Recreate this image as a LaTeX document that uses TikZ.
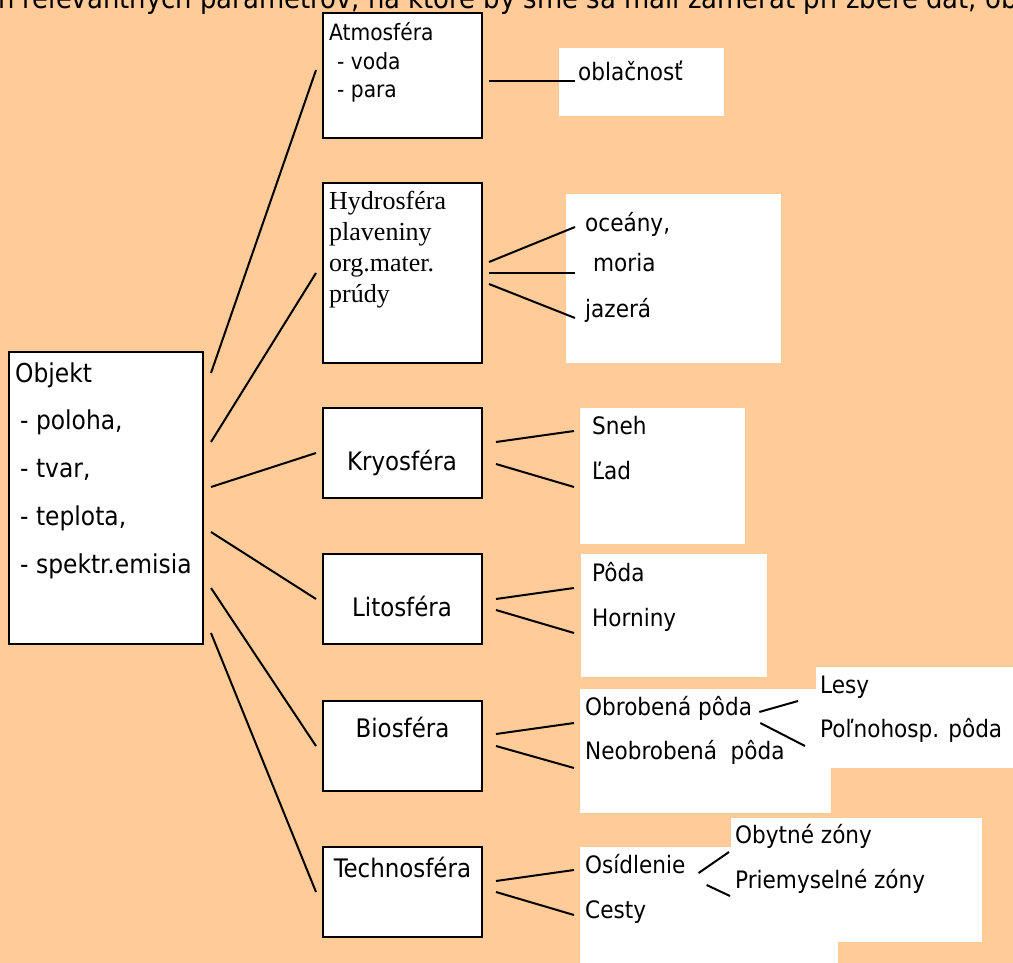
\documentclass[tikz,border=0pt]{standalone}
\usepackage{fontspec}
\setmainfont{DejaVu Sans Condensed}
\newfontfamily\timesface{Liberation Serif}
\definecolor{peach}{HTML}{FFCC99}

\begin{document}
\begin{tikzpicture}[x=1pt,y=-1pt,
    sphere/.style={draw, line width=2pt, fill=white, inner sep=0pt, minimum width=159pt, minimum height=90pt},
    title/.style={anchor=base, inner sep=0pt, font=\fontsize{25.5}{30}\selectfont},
    item/.style={anchor=base west, inner sep=0pt, font=\fontsize{24}{28}\selectfont},
    link/.style={line width=2pt}]
   % background and frame
   \fill[peach] (0,0) rectangle (1013,963);
   \useasboundingbox (0,0) rectangle (1013,963);
   \clip (0,0) rectangle (1013,963);
   \node[anchor=base west, inner sep=0pt, font=\fontsize{28.8}{34}\selectfont] (head) at (-2,9)
      {n relevantných parametrov, na ktoré by sme sa mali zamerať pri zbere dát, ob};
   % white backgrounds of the lists
   \fill[white] (559,48) rectangle (724,116);
   \fill[white] (566,194) rectangle (781,363);
   \fill[white] (580,408) rectangle (745,544);
   \fill[white] (581,554) rectangle (767,677);
   \fill[white] (580,689) rectangle (831,813);
   \fill[white] (816,667) rectangle (1013,768);
   \fill[white] (580,847) rectangle (838,963);
   \fill[white] (731,818) rectangle (982,942);
   % object
   \node[sphere, minimum width=194pt, minimum height=292pt] (obj) at (106,498) {};
   \node[anchor=base west, inner sep=0pt, align=left, font=\fontsize{26}{47.75}\selectfont] (objtxt) at (15,573)
      {Objekt\\ \hspace*{5pt}- poloha,\\ \hspace*{5pt}- tvar,\\ \hspace*{5pt}- teplota,\\ \hspace*{5pt}- spektr.emisia};
   % spheres
   \node[sphere, minimum height=125pt] (atm) at (402.5,75.5) {};
   \node[sphere, minimum height=180pt] (hyd) at (402.5,273) {};
   \node[sphere] (kry) at (402.5,453) {};
   \node[sphere] (lit) at (402.5,599) {};
   \node[sphere] (bio) at (402.5,746) {};
   \node[sphere] (tec) at (402.5,892) {};
   \node[anchor=base west, inner sep=0pt, align=left, font=\fontsize{22.5}{28.5}\selectfont] (atmtxt) at (329,98)
      {Atmosféra\\ \hspace*{8pt}- voda\\ \hspace*{8pt}- para};
   \node[anchor=base west, inner sep=0pt, align=left, font=\timesface\fontsize{26}{30.67}\selectfont] (hydtxt) at (329,302)
      {Hydrosféra\\ plaveniny\\ org.mater.\\ prúdy};
   \node[title] (krytxt) at (402,470) {Kryosféra};
   \node[title] (littxt) at (402,616) {Litosféra};
   \node[title] (biotxt) at (402.5,737) {Biosféra};
   \node[title] (tectxt) at (402.5,877) {Technosféra};
   % lists
   \node[item] (oblac) at (578,81) {oblačnosť};
   \node[item] (ocean) at (585,232) {oceány,};
   \node[item] (moria) at (593,272) {moria};
   \node[item] (jazera) at (585,317) {jazerá};
   \node[item] (sneh) at (592,434) {Sneh};
   \node[item] (lad) at (592,479) {Ľad};
   \node[item] (poda) at (592,581) {Pôda};
   \node[item] (horn) at (592,626) {Horniny};
   \node[item] (obrob) at (585,715) {Obrobená pôda};
   \node[item] (neobrob) at (585,759) {Neobrobená\ \ pôda};
   \node[item] (lesy) at (820,693) {Lesy};
   \node[item] (polno) at (820,737) {Poľnohosp. pôda};
   \node[item] (osid) at (585,873) {Osídlenie};
   \node[item] (cesty) at (585,918) {Cesty};
   \node[item] (obyt) at (735,843) {Obytné zóny};
   \node[item] (priem) at (735,888) {Priemyselné zóny};
   % object to spheres
   \draw[link] ([xshift=7pt,yshift=125pt]obj.east) -- ([xshift=-6pt,yshift=5.5pt]atm.west);
   \draw[link] ([xshift=7pt,yshift=56pt]obj.east) -- ([xshift=-6pt]hyd.west);
   \draw[link] ([xshift=7pt,yshift=11pt]obj.east) -- ([xshift=-6pt]kry.west);
   \draw[link] ([xshift=7pt,yshift=-34pt]obj.east) -- ([xshift=-6pt]lit.west);
   \draw[link] ([xshift=7pt,yshift=-90pt]obj.east) -- ([xshift=-6pt]bio.west);
   \draw[link] ([xshift=7pt,yshift=-135pt]obj.east) -- ([xshift=-6pt]tec.west);
   % spheres to lists
   \draw[link] ([xshift=6pt,yshift=-5.5pt]atm.east) -- ([xshift=-3pt]oblac.base west);
   \draw[link] ([xshift=6pt,yshift=11pt]hyd.east) -- ([xshift=-10pt,yshift=5pt]ocean.base west);
   \draw[link] ([xshift=6pt]hyd.east) -- ([xshift=-18pt,yshift=-1pt]moria.base west);
   \draw[link] ([xshift=6pt,yshift=-11pt]hyd.east) -- ([xshift=-10pt,yshift=-1pt]jazera.base west);
   \draw[link] ([xshift=13pt,yshift=11pt]kry.east) -- ([xshift=-18pt,yshift=3pt]sneh.base west);
   \draw[link] ([xshift=13pt,yshift=-11pt]kry.east) -- ([xshift=-18pt,yshift=-8pt]lad.base west);
   \draw[link] ([xshift=13pt]lit.east) -- ([xshift=-18pt,yshift=-7pt]poda.base west);
   \draw[link] ([xshift=13pt,yshift=-11pt]lit.east) -- ([xshift=-18pt,yshift=-7pt]horn.base west);
   \draw[link] ([xshift=13pt,yshift=12pt]bio.east) -- ([xshift=-11pt,yshift=-8pt]obrob.base west);
   \draw[link] ([xshift=13pt]bio.east) -- ([xshift=-11pt,yshift=-9pt]neobrob.base west);
   \draw[link] ([xshift=13pt,yshift=11pt]tec.east) -- ([xshift=-11pt,yshift=3pt]osid.base west);
   \draw[link] ([xshift=13pt]tec.east) -- ([xshift=-11pt,yshift=3pt]cesty.base west);
   % sublists
   \draw[link] ([xshift=7pt,yshift=3pt]obrob.base east) -- ([xshift=-22pt,yshift=-8pt]lesy.base west);
   \draw[link] ([xshift=8pt,yshift=-8pt]obrob.base east) -- ([xshift=-15pt,yshift=-9pt]polno.base west);
   \draw[link] ([xshift=13pt]osid.base east) -- ([xshift=-6pt,yshift=-9pt]obyt.base west);
   \draw[link] ([xshift=21pt,yshift=-12pt]osid.base east) -- ([xshift=-5pt,yshift=-8pt]priem.base west);
\end{tikzpicture}
\end{document}
